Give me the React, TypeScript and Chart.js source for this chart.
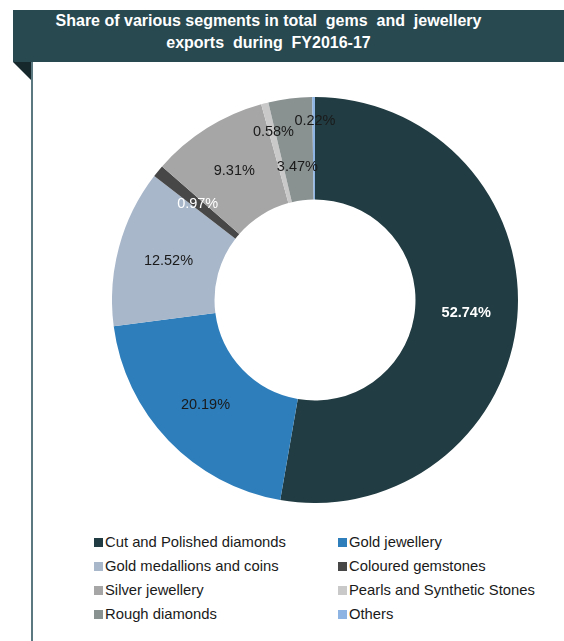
import React, { useEffect, useRef } from "react";
import { Chart, registerables } from "chart.js";

Chart.register(...registerables);

const TITLE_LINES = ["Share of various segments in total\u00a0 gems\u00a0 and\u00a0 jewellery", "exports\u00a0 during\u00a0 FY2016-17"];

const segmentLabels = [
  "Cut and Polished diamonds",
  "Gold jewellery",
  "Gold medallions and coins",
  "Coloured gemstones",
  "Silver jewellery",
  "Pearls and Synthetic Stones",
  "Rough diamonds",
  "Others",
];

const shareValues = [52.74, 20.19, 12.52, 0.97, 9.31, 0.58, 3.47, 0.22];

const segmentColors = [
  "#213c42",
  "#2e7ebb",
  "#a8b7ca",
  "#474747",
  "#a6a6a6",
  "#c9c9c9",
  "#8a9191",
  "#8db4e2",
];

const labelTextColors = ["#ffffff", "#1a1a1a", "#1a1a1a", "#ffffff", "#1a1a1a", "#1a1a1a", "#1a1a1a", "#1a1a1a"];

// label nudges in px (style only)
const labelNudge: [number, number][] = [
  [0, 0],
  [0, 0],
  [0, 0],
  [0, 0],
  [0, 0],
  [-4, -21],
  [1, 18],
  [1, -27],
];

const legendOrder = [0, 1, 2, 3, 4, 5, 6, 7];

const FONT = '"Liberation Sans", Arial, sans-serif';

const valueLabelPlugin = {
  id: "valueLabels",
  afterDatasetsDraw(chart: any) {
    const ctx = chart.ctx;
    const meta = chart.getDatasetMeta(0);
    const data = chart.data.datasets[0].data as number[];
    ctx.save();
    ctx.textAlign = "center";
    ctx.textBaseline = "middle";
    meta.data.forEach((arc: any, i: number) => {
      const p = arc.getProps(["x", "y", "startAngle", "endAngle", "innerRadius", "outerRadius"], true);
      const mid = (p.startAngle + p.endAngle) / 2;
      const r = (p.innerRadius + p.outerRadius) / 2;
      const [dx, dy] = labelNudge[i] || [0, 0];
      const x = p.x + Math.cos(mid) * r + dx;
      const y = p.y + Math.sin(mid) * r + dy;
      ctx.font = (i === 0 ? "bold " : "") + `14.5px ${FONT}`;
      ctx.fillStyle = labelTextColors[i];
      ctx.fillText(data[i].toFixed(2) + "%", x, y);
    });
    ctx.restore();
  },
};

export default function App() {
  const canvasRef = useRef<HTMLCanvasElement | null>(null);

  useEffect(() => {
    document.body.style.margin = "0";
    const chart = new Chart(canvasRef.current as HTMLCanvasElement, {
      type: "doughnut",
      data: {
        labels: segmentLabels,
        datasets: [
          {
            data: shareValues,
            backgroundColor: segmentColors,
            borderWidth: 0,
          },
        ],
      },
      options: {
        responsive: false,
        animation: false,
        cutout: "49.5%",
        layout: { padding: 0 },
        plugins: {
          legend: { display: false },
          tooltip: { enabled: false },
          title: { display: false },
        },
      },
      plugins: [valueLabelPlugin],
    });
    return () => chart.destroy();
  }, []);

  return (
    <div style={{ position: "relative", width: 564, height: 641, background: "#ffffff", overflow: "hidden", fontFamily: FONT }}>
      <div
        style={{
          position: "absolute",
          left: 13,
          top: 10,
          width: 551,
          height: 52,
          background: "#284950",
          color: "#ffffff",
          fontWeight: "bold",
          fontSize: 16,
          lineHeight: "22px",
          textAlign: "center",
          boxSizing: "border-box",
          paddingTop: 0,
          paddingRight: 40,
        }}
      >
        <div>{TITLE_LINES[0]}</div>
        <div>{TITLE_LINES[1]}</div>
      </div>
      <div
        style={{
          position: "absolute",
          left: 13,
          top: 62,
          width: 0,
          height: 0,
          borderTop: "18px solid #16282c",
          borderLeft: "18px solid transparent",
        }}
      />
      <div style={{ position: "absolute", left: 31, top: 62, width: 2, height: 579, background: "#5b7880" }} />
      <canvas ref={canvasRef} width={406} height={406} style={{ position: "absolute", left: 112, top: 97 }} />
      {legendOrder.map((idx, k) => {
        const col = k % 2;
        const row = Math.floor(k / 2);
        return (
          <div
            key={idx}
            style={{
              position: "absolute",
              left: col === 0 ? 94 : 338,
              top: 533 + row * 24,
              height: 18,
              display: "flex",
              alignItems: "center",
              fontSize: 14.8,
              color: "#1a1a1a",
              whiteSpace: "nowrap",
            }}
          >
            <span style={{ display: "inline-block", width: 9, height: 9, background: segmentColors[idx], marginRight: 2 }} />
            <span>{segmentLabels[idx]}</span>
          </div>
        );
      })}
    </div>
  );
}
